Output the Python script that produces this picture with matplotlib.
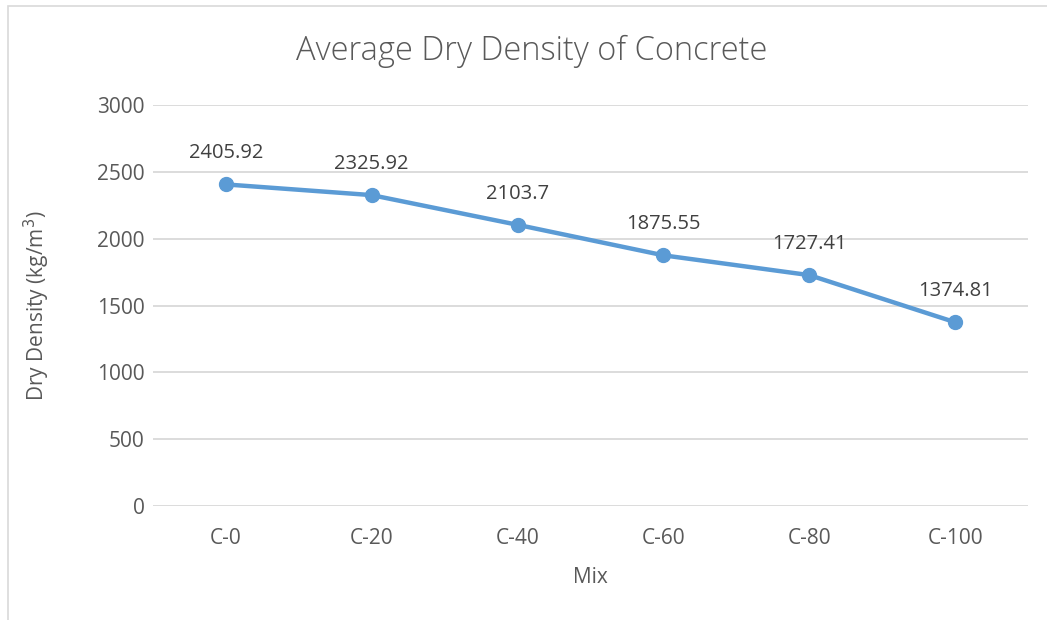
import matplotlib.pyplot as plt
from matplotlib.patches import Rectangle

plt.rcParams['font.family'] = ['Open Sans', 'DejaVu Sans']

# data
mixes = ['C-0', 'C-20', 'C-40', 'C-60', 'C-80', 'C-100']
density = [2405.92, 2325.92, 2103.7, 1875.55, 1727.41, 1374.81]
labels = ['2405.92', '2325.92', '2103.7', '1875.55', '1727.41', '1374.81']

txt = '#595959'
blue = '#5B9BD5'

fig = plt.figure(figsize=(10.47, 6.2), dpi=100)
ax = fig.add_axes([0.1461, 0.1839, 0.8358, 0.6467])

# outer chart border (light gray)
fig.patches.append(Rectangle((0.0076, -0.02), 1.05, 1.01, transform=fig.transFigure,
                             fill=False, edgecolor='#D9D9D9', linewidth=1.2))

x = range(len(mixes))
ax.plot(x, density, color=blue, linewidth=3.2, marker='o', markersize=10,
        markerfacecolor=blue, markeredgecolor=blue, zorder=3)

for xi, yi, lab in zip(x, density, labels):
    ax.annotate(lab, (xi, yi), xytext=(0, 22.5), textcoords='offset points',
                ha='center', va='center', fontsize=14.5, color='#404040')

ax.set_xlim(-0.5, len(mixes) - 0.5)
ax.set_ylim(0, 3000)
ax.set_yticks(range(0, 3001, 500))
ax.set_xticks(list(x))
ax.set_xticklabels(mixes)
ax.yaxis.grid(True, color='#D9D9D9', linewidth=1.3)
ax.set_axisbelow(True)
for s in ax.spines.values():
    s.set_visible(False)
ax.tick_params(length=0, labelsize=15, labelcolor=txt)
ax.tick_params(axis='y', pad=6)
ax.tick_params(axis='x', pad=16)

ax.set_xlabel('Mix', fontsize=15, color=txt)
ax.set_ylabel('Dry Density (kg/m$^3$)', fontsize=15, color=txt)
ax.xaxis.set_label_coords(0.5, -0.152)
ax.yaxis.set_label_coords(-0.115, 0.5)

fig.text(0.508, 0.918, 'Average Dry Density of Concrete', ha='center', va='center',
         fontsize=23.5, color=txt, fontweight='light')

fig.savefig('out.png', dpi=100)
